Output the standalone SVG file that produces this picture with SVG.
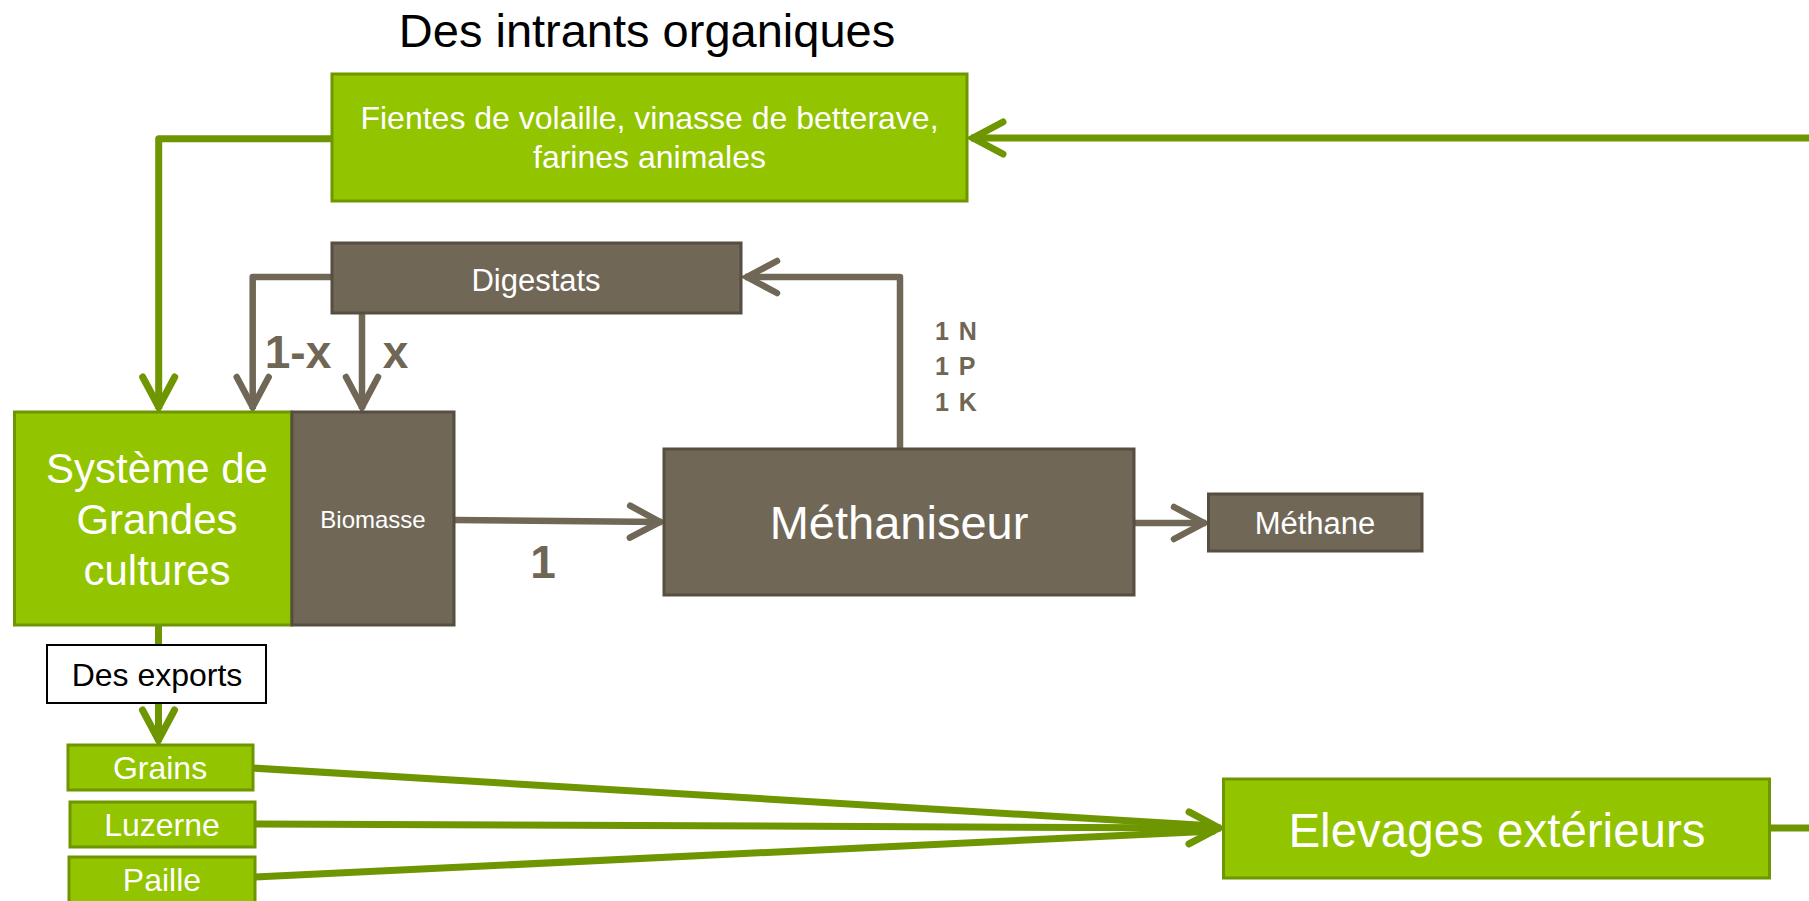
<svg xmlns="http://www.w3.org/2000/svg" width="1809" height="901" viewBox="0 0 1809 901">
<style>
  .green { fill: #93C400; stroke: #6E9600; stroke-width: 3; }
  .gray { fill: #716757; stroke: #564E41; stroke-width: 3; }
  .white { fill: #FFFFFF; stroke: #000000; stroke-width: 2; }
  .t { font-family: "Liberation Sans", Arial, sans-serif; text-anchor: middle; fill: #FFFFFF; }
  .lbl { font-family: "Liberation Sans", Arial, sans-serif; font-weight: bold; fill: #6F6656; }
  .cg { fill: none; stroke: #6E9600; stroke-width: 7; stroke-linejoin: round; }
  .cb { fill: none; stroke: #716757; stroke-width: 6.5; stroke-linejoin: round; }
</style>
<defs>
  <marker id="ag" markerUnits="userSpaceOnUse" orient="auto" refX="2" refY="0" markerWidth="60" markerHeight="60" overflow="visible">
    <path d="M-30,-16 L0,0 L-30,16" fill="none" stroke="#6E9600" stroke-width="7" stroke-linecap="round" stroke-linejoin="miter"/>
  </marker>
  <marker id="ab" markerUnits="userSpaceOnUse" orient="auto" refX="2" refY="0" markerWidth="60" markerHeight="60" overflow="visible">
    <path d="M-30,-16 L0,0 L-30,16" fill="none" stroke="#716757" stroke-width="6.5" stroke-linecap="round" stroke-linejoin="miter"/>
  </marker>
</defs>
<rect width="1809" height="901" fill="#FFFFFF"/>

<text x="647" y="47" class="t" style="fill:#000000" font-size="47">Des intrants organiques</text>

<g id="connectors">
  <path class="cg" d="M332,138.7 H158.7 V409" marker-end="url(#ag)"/>
  <path class="cg" d="M1820,138 H971" marker-end="url(#ag)"/>
  <path class="cg" d="M1770,828 H1820"/>
  <path class="cg" d="M158.5,626 V645"/>
  <path class="cg" d="M158.5,703 V742" marker-end="url(#ag)"/>
  <path class="cg" d="M252,768 L1215,826"/>
  <path class="cg" d="M255,824 L1221,828" marker-end="url(#ag)"/>
  <path class="cg" d="M255,877 L1215,831"/>
  <path class="cb" d="M332,277 H252.7 V409" marker-end="url(#ab)"/>
  <path class="cb" d="M362,313 V409" marker-end="url(#ab)"/>
  <path class="cb" d="M454,520 L662,522" marker-end="url(#ab)"/>
  <path class="cb" d="M900,449 V277 H745" marker-end="url(#ab)"/>
  <path class="cb" d="M1134,523 H1206" marker-end="url(#ab)"/>
</g>

<g id="fientes">
  <rect class="green" x="332" y="74" width="635" height="127"/>
  <text class="t" font-size="32" x="649.5" y="129">Fientes de volaille, vinasse de betterave,</text>
  <text class="t" font-size="32" x="649.5" y="168">farines animales</text>
</g>

<g id="digestats">
  <rect class="gray" x="332" y="243" width="409" height="70"/>
  <text class="t" font-size="31" x="536" y="291">Digestats</text>
</g>

<g id="labels">
  <text class="lbl" font-size="46" x="298" y="368" text-anchor="middle">1-x</text>
  <text class="lbl" font-size="46" x="395.5" y="368" text-anchor="middle">x</text>
  <text class="lbl" font-size="46" x="543" y="578" text-anchor="middle">1</text>
  <text class="lbl" font-size="25" x="935" y="340" letter-spacing="1.5">1 N</text>
  <text class="lbl" font-size="25" x="935" y="375" letter-spacing="1.5">1 P</text>
  <text class="lbl" font-size="25" x="935" y="411" letter-spacing="1.5">1 K</text>
</g>

<g id="systeme">
  <rect class="green" x="14.5" y="412" width="277" height="213"/>
  <text class="t" font-size="42" x="157" y="483">Système de</text>
  <text class="t" font-size="42" x="157" y="534">Grandes</text>
  <text class="t" font-size="42" x="157" y="585">cultures</text>
</g>

<g id="biomasse">
  <rect class="gray" x="292" y="412" width="162" height="213"/>
  <text class="t" font-size="24" x="373" y="528">Biomasse</text>
</g>

<g id="methaniseur">
  <rect class="gray" x="664" y="449" width="470" height="146"/>
  <text class="t" font-size="47" x="899" y="539">Méthaniseur</text>
</g>

<g id="methane">
  <rect class="gray" x="1208.5" y="494" width="213.5" height="57"/>
  <text class="t" font-size="31" x="1315" y="534">Méthane</text>
</g>

<g id="exports">
  <rect class="white" x="47" y="645" width="219" height="58"/>
  <text class="t" style="fill:#000000" font-size="32" x="157" y="686">Des exports</text>
</g>

<g id="grains">
  <rect class="green" x="68" y="745" width="185" height="45"/>
  <text class="t" font-size="32" x="160" y="779">Grains</text>
</g>

<g id="luzerne">
  <rect class="green" x="70" y="802" width="185" height="45"/>
  <text class="t" font-size="32" x="162" y="836">Luzerne</text>
</g>

<g id="paille">
  <rect class="green" x="69" y="857" width="186" height="52"/>
  <text class="t" font-size="32" x="162" y="891">Paille</text>
</g>

<g id="elevages">
  <rect class="green" x="1223.5" y="779" width="546" height="99"/>
  <text class="t" font-size="47.5" x="1497" y="847">Elevages extérieurs</text>
</g>
</svg>
